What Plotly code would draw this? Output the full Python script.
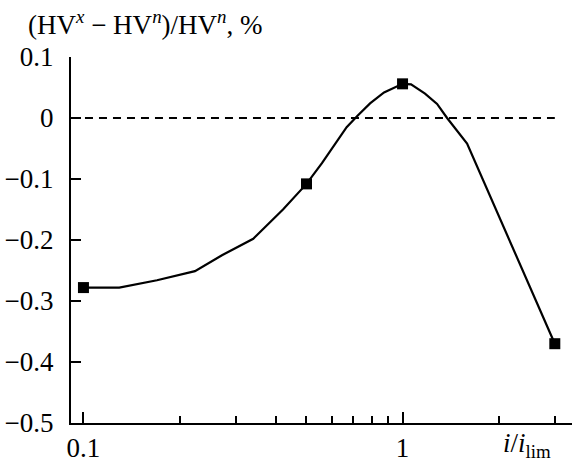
import plotly.graph_objects as go

# Relative change of microhardness vs. normalized current density
ratio = [0.1, 0.1295, 0.170, 0.2236, 0.2717, 0.3405, 0.422, 0.5, 0.559, 0.668,
         0.720, 0.791, 0.875, 1.0, 1.063, 1.176, 1.283, 1.379, 1.593, 3.0]
hv_change = [-0.278, -0.278, -0.266, -0.251, -0.225, -0.198, -0.150, -0.108, -0.074, -0.015,
             0.003, 0.024, 0.042, 0.056, 0.055, 0.040, 0.023, 0.000, -0.042, -0.370]

# Measured points shown with square markers
ratio_pts = [0.1, 0.5, 1.0, 3.0]
hv_pts = [-0.278, -0.108, 0.056, -0.370]

# Zero reference line
zero_x = [0.0914, 3.0]
zero_y = [0.0, 0.0]

y_ticks = [-0.5, -0.4, -0.3, -0.2, -0.1, 0.0, 0.1]
y_ticktext = ["\u22120.5", "\u22120.4", "\u22120.3", "\u22120.2", "\u22120.1", "0", "0.1"]
x_ticks = [0.1, 1]
x_ticktext = ["0.1", "1"]
x_minor = [0.2, 0.3, 0.4, 0.5, 0.6, 0.7, 0.8, 0.9, 2, 3]

FONT = "Liberation Serif"

fig = go.Figure()
fig.add_trace(go.Scatter(x=zero_x, y=zero_y, mode="lines",
                         line=dict(color="black", width=2, dash="8px,6px"),
                         hoverinfo="skip"))
fig.add_trace(go.Scatter(x=ratio, y=hv_change, mode="lines",
                         line=dict(color="black", width=2.2), hoverinfo="skip"))
fig.add_trace(go.Scatter(x=ratio_pts, y=hv_pts, mode="markers",
                         marker=dict(symbol="square", size=11, color="black"),
                         hoverinfo="skip"))

fig.update_layout(
    width=572, height=462,
    margin=dict(l=71, r=0, t=57, b=39),
    paper_bgcolor="white", plot_bgcolor="white",
    showlegend=False,
    font=dict(family=FONT, size=27, color="black"),
    xaxis=dict(
        type="log", range=[-1.039, 0.531],
        showline=True, linecolor="black", linewidth=2,
        showgrid=False, zeroline=False,
        tickmode="array", tickvals=x_ticks, ticktext=x_ticktext,
        ticks="inside", ticklen=11, tickwidth=2, tickcolor="black",
        minor=dict(tickmode="array", tickvals=x_minor, ticks="inside",
                   ticklen=7, tickwidth=2, tickcolor="black", showgrid=False),
        tickfont=dict(family=FONT, size=27),
        ticklabelstandoff=0,
    ),
    yaxis=dict(
        range=[-0.5, 0.1],
        showline=True, linecolor="black", linewidth=2,
        showgrid=False, zeroline=False,
        tickmode="array", tickvals=y_ticks, ticktext=y_ticktext,
        ticks="inside", ticklen=10, tickwidth=2, tickcolor="black",
        tickfont=dict(family=FONT, size=27),
        ticklabelstandoff=10,
    ),
    annotations=[
        dict(text="(HV<sup><i>x</i></sup> \u2212 HV<sup><i>n</i></sup>)/HV<sup><i>n</i></sup>, %",
             xref="paper", yref="paper", x=-0.089, y=1.0, yshift=34,
             xanchor="left", yanchor="middle", showarrow=False,
             font=dict(family=FONT, size=27)),
        dict(text="<i>i</i>/<i>i</i><sub>lim</sub>",
             xref="paper", yref="paper", x=0.858, y=0.0, yshift=-22,
             xanchor="left", yanchor="middle", showarrow=False,
             font=dict(family=FONT, size=27)),
    ],
)

fig.write_html("out.html")
